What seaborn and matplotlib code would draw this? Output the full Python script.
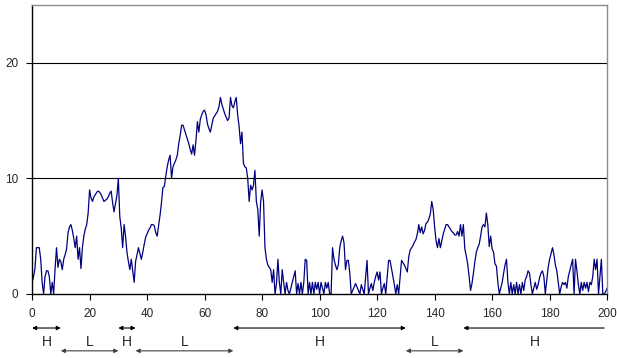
import numpy as np
import pandas as pd
import seaborn as sns
from matplotlib import pyplot as plt

sns.set_style("ticks")
plt.rcParams["font.family"] = ["Liberation Sans", "DejaVu Sans"]

# signal sampled every 0.5 units, 0..200
level = [
    1, 1.5, 2.2, 4, 4, 4, 3, 1, 0, 1.5, 2, 2, 1.5, 0, 1, 0, 2.2, 4, 2.3, 3,
    2.8, 2.1, 3, 3.4, 3.9, 5.3, 5.8, 6, 5.5, 4.8, 4, 5, 3, 4, 2.2, 4, 5, 5.6, 6, 7,
    9, 8.3, 8, 8.4, 8.6, 8.8, 8.9, 8.8, 8.6, 8.3, 8, 8.1, 8.2, 8.4, 8.7, 8.9, 7.9, 7.1, 7.8, 8.5,
    10, 6.7, 5.7, 4, 6, 5, 3.6, 2.8, 2.1, 3, 2, 1, 2.8, 3.4, 4, 3.5, 3, 3.6, 4.3, 4.9,
    5.2, 5.5, 5.7, 6, 6, 5.9, 5.3, 5, 5.9, 6.8, 7.9, 9.2, 9.3, 10.2, 11, 11.6, 12, 10, 11, 11.3,
    11.6, 12, 13, 13.7, 14.6, 14.6, 14.2, 13.8, 13.4, 13, 12.5, 12.1, 12.9, 12, 13.3, 14.9, 14, 15.1, 15.5, 15.8,
    15.9, 15.5, 14.7, 14.3, 14, 14.6, 15.2, 15.4, 15.6, 15.8, 16.2, 17, 16.4, 16, 15.6, 15.3, 15, 15.2, 17, 16.3,
    16.1, 16.6, 17, 15.5, 14.5, 13, 14, 11.3, 11, 10.9, 10, 8, 9.4, 9, 9.4, 10.7, 8, 7.3, 5, 8,
    9, 8, 4, 3, 2.5, 2.3, 2.1, 1, 2.1, 0, 0.9, 3, 1, 0, 2.1, 1, 0, 1, 0.3, 0,
    0.5, 1, 1.5, 2, 0, 0.9, 0, 1, 0, 1, 3, 2.9, 0, 1, 0, 1, 0, 1, 0.4, 1,
    0, 1, 0.5, 0, 1, 0.5, 1, 0, 0, 4, 3, 2.5, 2.1, 2.5, 4, 4.6, 5, 4.4, 2.1, 2.9,
    2.9, 1.8, 0, 0.3, 0.6, 0.9, 0.6, 0.3, 0, 0.8, 0.4, 0, 1.5, 2.9, 0, 0.5, 0.9, 0.3, 1, 1.5,
    1.9, 1.2, 1.9, 0, 0.5, 0.9, 0, 1.5, 2.9, 2.9, 2.2, 1.5, 0.8, 0, 0.8, 0, 1.5, 2.9, 2.7, 2.5,
    2.2, 1.9, 3.2, 3.8, 4, 4.2, 4.5, 4.7, 5.2, 6, 5.3, 5.8, 5.2, 5.5, 6.1, 6.2, 6.5, 6.9, 8, 7.3,
    5.8, 4.6, 4, 4.8, 4, 4.6, 5.2, 5.6, 6, 6, 5.8, 5.6, 5.4, 5.3, 5.1, 5.1, 5.4, 5, 6, 5,
    6, 3.9, 3.3, 2.6, 1.5, 0.3, 0.9, 1.8, 2.8, 3.6, 4, 4.3, 5, 5.8, 6, 5.8, 7, 6, 4.1, 5,
    3.9, 3.6, 2.6, 2.4, 1, 0, 0.5, 1, 1.8, 2.5, 3, 1, 0, 1, 0, 0.8, 0, 1, 0, 0.8,
    0, 1, 0.3, 1.2, 1.5, 2, 1.8, 0.8, 0, 0.5, 1, 0.4, 0.8, 1.4, 1.8, 2, 1.5, 0, 1.2, 2.3,
    3, 3.5, 4, 3.4, 2.5, 2, 1, 0, 0.6, 1, 0.8, 1, 0.5, 1.5, 2, 2.5, 3, 0, 3, 2,
    0.8, 0, 1, 0.3, 1, 0.5, 1, 0.2, 1, 0.8, 1.5, 3, 2.1, 3, 0, 1.5, 3, 0, 0, 0.2,
    0.5,
]
position = np.arange(len(level)) * 0.5

# regime bands below the axis
band_start = [0, 10, 30, 36, 70, 130, 150]
band_end = [10, 30, 36, 70, 130, 150, 200]
band_label = ["H", "L", "H", "L", "H", "L", "H"]

df = pd.DataFrame({"x": position, "y": level})

fig = plt.figure(figsize=(6.17, 3.58), dpi=100)
ax = fig.add_axes([0.052, 0.179, 0.932, 0.807])

sns.lineplot(data=df, x="x", y="y", ax=ax, color="#000080", lw=0.9)

ax.set_xlim(0, 200)
ax.set_ylim(0, 25)
ax.set_xticks(range(0, 201, 20))
ax.set_yticks([0, 10, 20])
ax.set(xlabel="", ylabel="")
for yv in [10, 20]:
    ax.axhline(yv, color="black", lw=0.8, zorder=0)
ax.tick_params(labelsize=8.5, length=4, width=0.8, color="black", pad=6)
ax.spines[["left", "bottom"]].set_color("black")
ax.spines[["top", "right"]].set_color("#8c8c8c")
for s in ax.spines.values():
    s.set_linewidth(1)

trans = ax.get_xaxis_transform()
for start, end, lab in zip(band_start, band_end, band_label):
    row = -0.118 if lab == "H" else -0.197
    color = "black" if lab == "H" else "#404040"
    # last band runs off the chart: head only on its left end
    style = "<|-|>" if end < 200 else "-|>"
    ax.annotate(
        "", xy=(start, row), xytext=(end - (1 if end == 200 else 0), row),
        xycoords=trans, textcoords=trans,
        arrowprops=dict(arrowstyle=style, color=color, lw=0.8,
                        shrinkA=0, shrinkB=0, mutation_scale=6),
        annotation_clip=False,
    )
    ax.text((start + end) / 2, -0.165, lab, transform=trans,
            ha="center", va="center", fontsize=10)

fig.savefig("out.png", dpi=100)
